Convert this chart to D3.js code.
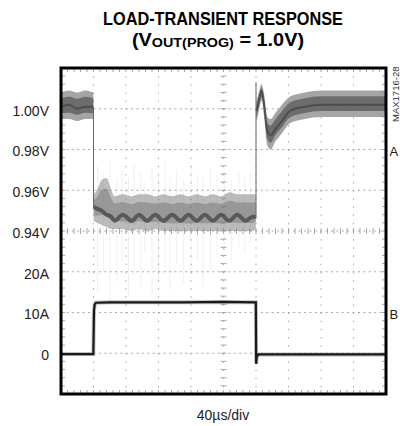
<!DOCTYPE html>
<html>
<head>
<meta charset="utf-8">
<script src="https://cdn.jsdelivr.net/npm/d3@7"></script>
<style>
  body { margin: 0; background: #fff; }
  svg { display: block; }
</style>
</head>
<body>
<div id="chart"></div>
<script>
// Scope capture: channel A = output voltage, channel B = load current
// time in microseconds (40us/div, 10 divisions)
const vTime = [0, 10, 20, 30, 39.8, 40.2, 44, 50, 56, 62, 66, 76, 87, 96, 106, 116, 126, 137, 147, 157, 167, 177, 187, 197, 207, 217, 227, 236, 239.8,
  240.2, 242, 247, 250, 254, 258, 264, 272, 282, 300, 320, 350, 400];
const vHigh = [1.008, 1.009, 1.008, 1.009, 1.008, 0.958, 0.960, 0.965, 0.966, 0.960, 0.957, 0.958, 0.957, 0.958, 0.958, 0.957, 0.958, 0.957, 0.958, 0.957, 0.958, 0.957, 0.958, 0.957, 0.959, 0.958, 0.958, 0.958, 0.958,
  1.004, 1.006, 1.012, 1.007, 0.996, 0.995, 0.998, 1.002, 1.006, 1.008, 1.009, 1.009, 1.009];
const vLow = [0.995, 0.995, 0.994, 0.995, 0.995, 0.945, 0.944, 0.943, 0.942, 0.941, 0.941, 0.941, 0.940, 0.941, 0.940, 0.941, 0.940, 0.940, 0.940, 0.940, 0.940, 0.940, 0.940, 0.940, 0.940, 0.940, 0.940, 0.940, 0.941,
  0.994, 0.996, 1.004, 0.996, 0.982, 0.980, 0.984, 0.988, 0.993, 0.995, 0.996, 0.996, 0.996];
const vCore = [1.001, 1.002, 1.000, 1.001, 1.001, 0.952, 0.951, 0.950, 0.948, 0.947, 0.945, 0.948, 0.945, 0.948, 0.945, 0.948, 0.945, 0.948, 0.945, 0.948, 0.945, 0.948, 0.945, 0.948, 0.945, 0.948, 0.945, 0.947, 0.947,
  0.999, 1.001, 1.009, 1.002, 0.989, 0.987, 0.990, 0.994, 0.999, 1.001, 1.002, 1.002, 1.002];

// the two fast edges of the voltage trace
const edgeTime = [40, 240];
const edgeFromV = [1.001, 0.946];
const edgeToV = [0.952, 1.013];

// faint noise spikes while loaded
const spikeTime = [45, 52, 60, 69, 75, 83, 90, 98, 103, 112, 120, 128, 134, 142, 151, 160, 168, 175, 184, 192, 201, 210, 219, 226, 233];
const spikeTop = [0.972, 0.968, 0.975, 0.965, 0.970, 0.966, 0.973, 0.969, 0.964, 0.971, 0.967, 0.974, 0.966, 0.970, 0.965, 0.972, 0.968, 0.966, 0.971, 0.967, 0.970, 0.965, 0.969, 0.966, 0.968];
const spikeBottom = [0.910, 0.920, 0.906, 0.915, 0.925, 0.908, 0.918, 0.912, 0.930, 0.909, 0.916, 0.920, 0.911, 0.924, 0.914, 0.919, 0.926, 0.913, 0.921, 0.928, 0.930, 0.925, 0.932, 0.929, 0.934];

const iTime = [0, 39.8, 40.6, 41.5, 43, 60, 100, 150, 200, 239.8, 240.2, 241, 243, 260, 300, 350, 400];
const iAmps = [-0.2, -0.2, 10.5, 12.0, 12.4, 12.5, 12.5, 12.5, 12.6, 12.5, -2.6, -0.8, -0.3, -0.3, -0.3, -0.3, -0.3];

// tick labels
const vTickValues = [1.00, 0.98, 0.96, 0.94];
const vTickLabels = ["1.00V", "0.98V", "0.96V", "0.94V"];
const iTickValues = [20, 10, 0];
const iTickLabels = ["20A", "10A", "0"];

const width = 400;
const height = 426;
const margin = { top: 68, right: 14, bottom: 32, left: 61 };
const font = "'Liberation Sans', Arial, sans-serif";

const svg = d3.select("#chart")
  .append("svg")
  .attr("width", width)
  .attr("height", height);

// scales
const x = d3.scaleLinear().domain([0, 400]).range([margin.left, width - margin.right]);
const yV = d3.scaleLinear().domain([0.86, 1.02]).range([height - margin.bottom, margin.top]);
const yI = d3.scaleLinear().domain([-10, 70]).range([height - margin.bottom, margin.top]);

const x0 = x.range()[0], x1 = x.range()[1];
const yTop = yV.range()[1], yBot = yV.range()[0];

// grid
const grid = svg.append("g").attr("stroke", "#a8a8a8").attr("fill", "none");
const timeDivs = d3.range(1, 10).map(k => k * 40);
const voltDivs = d3.range(1, 8).map(k => 0.86 + k * 0.02);

grid.selectAll(".vgrid")
  .data(timeDivs)
  .join("line")
  .attr("x1", d => x(d)).attr("x2", d => x(d))
  .attr("y1", yTop).attr("y2", yBot)
  .attr("stroke-dasharray", "1.5,6.65");

grid.selectAll(".hgrid")
  .data(voltDivs)
  .join("line")
  .attr("x1", x0).attr("x2", x1)
  .attr("y1", d => yV(d)).attr("y2", d => yV(d))
  .attr("stroke-dasharray", "2,3.4");

// minor ticks on the center cross and on the frame edges
const minorV = d3.range(0, 41).map(k => 0.86 + k * 0.004);
const minorT = d3.range(0, 51).map(k => k * 8);
const ticks = svg.append("g").attr("stroke", "#a8a8a8");
ticks.selectAll(".mv")
  .data(minorV)
  .join("line")
  .attr("x1", x(200) - 3).attr("x2", x(200) + 3)
  .attr("y1", d => yV(d)).attr("y2", d => yV(d));
ticks.selectAll(".mt")
  .data(minorT)
  .join("line")
  .attr("x1", d => x(d)).attr("x2", d => x(d))
  .attr("y1", yV(0.94) - 3).attr("y2", yV(0.94) + 3);
ticks.selectAll(".mb")
  .data(minorT)
  .join("line")
  .attr("x1", d => x(d)).attr("x2", d => x(d))
  .attr("y1", yBot - 4).attr("y2", yBot);
ticks.selectAll(".mtop")
  .data(minorT)
  .join("line")
  .attr("x1", d => x(d)).attr("x2", d => x(d))
  .attr("y1", yTop).attr("y2", yTop + 4);
ticks.selectAll(".ml")
  .data(minorV)
  .join("line")
  .attr("x1", x0).attr("x2", x0 + 4)
  .attr("y1", d => yV(d)).attr("y2", d => yV(d));
ticks.selectAll(".mr")
  .data(minorV)
  .join("line")
  .attr("x1", x1 - 4).attr("x2", x1)
  .attr("y1", d => yV(d)).attr("y2", d => yV(d));

// noise spikes
svg.append("g")
  .attr("stroke", "#888")
  .attr("stroke-opacity", 0.13)
  .selectAll("line")
  .data(spikeTime)
  .join("line")
  .attr("x1", d => x(d)).attr("x2", d => x(d))
  .attr("y1", (d, i) => yV(spikeTop[i]))
  .attr("y2", (d, i) => yV(spikeBottom[i]));

// voltage trace, split at the fast edges
const vData = vTime.map((t, i) => ({ t, hi: vHigh[i], lo: vLow[i], core: vCore[i] }));
const segments = d3.groups(vData, d => d3.bisect(edgeTime, d.t)).map(g => g[1]);

const band = d3.area()
  .x(d => x(d.t))
  .y0(d => yV(d.lo))
  .y1(d => yV(d.hi))
  .curve(d3.curveMonotoneX);

const innerBand = d3.area()
  .x(d => x(d.t))
  .y0(d => yV(d.lo + (d.hi - d.lo) * 0.22))
  .y1(d => yV(d.hi - (d.hi - d.lo) * 0.22))
  .curve(d3.curveMonotoneX);

const coreLine = d3.line()
  .x(d => x(d.t))
  .y(d => yV(d.core))
  .curve(d3.curveMonotoneX);

const traceA = svg.append("g");
traceA.selectAll(".band")
  .data(segments)
  .join("path")
  .attr("d", band)
  .attr("fill", "#8e8e8e")
  .attr("fill-opacity", (d, i) => i === 1 ? 0.6 : 0.8);

traceA.selectAll(".inner")
  .data(segments)
  .join("path")
  .attr("d", innerBand)
  .attr("fill", "#5a5a5a")
  .attr("fill-opacity", (d, i) => i === 1 ? 0.35 : 0.75);

traceA.selectAll(".core")
  .data(segments)
  .join("path")
  .attr("d", coreLine)
  .attr("fill", "none")
  .attr("stroke", "#2e2e2e")
  .attr("stroke-width", (d, i) => i === 1 ? 4 : 2)
  .attr("stroke-opacity", (d, i) => i === 1 ? 0.6 : 0.5);

traceA.selectAll(".edge")
  .data(edgeTime)
  .join("line")
  .attr("x1", d => x(d)).attr("x2", d => x(d))
  .attr("y1", (d, i) => yV(edgeFromV[i]))
  .attr("y2", (d, i) => yV(edgeToV[i]))
  .attr("stroke", "#666")
  .attr("stroke-width", 1);

// current trace
const iData = iTime.map((t, i) => ({ t, a: iAmps[i] }));
const iLine = d3.line()
  .x(d => x(d.t))
  .y(d => yI(d.a));

svg.append("path")
  .datum(iData)
  .attr("d", iLine)
  .attr("fill", "none")
  .attr("stroke", "#888")
  .attr("stroke-width", 4)
  .attr("stroke-opacity", 0.5);

svg.append("path")
  .datum(iData)
  .attr("d", iLine)
  .attr("fill", "none")
  .attr("stroke", "#1a1a1a")
  .attr("stroke-width", 2.2);

// frame
svg.append("rect")
  .attr("x", x0).attr("y", yTop)
  .attr("width", x1 - x0).attr("height", yBot - yTop)
  .attr("fill", "none")
  .attr("stroke", "#000")
  .attr("stroke-width", 3);

// y labels
const vAxis = d3.axisLeft(yV)
  .tickValues(vTickValues)
  .tickFormat((d, i) => vTickLabels[i])
  .tickSize(0)
  .tickPadding(12);
const iAxis = d3.axisLeft(yI)
  .tickValues(iTickValues)
  .tickFormat((d, i) => iTickLabels[i])
  .tickSize(0)
  .tickPadding(12);

[vAxis, iAxis].forEach(ax => {
  const g = svg.append("g")
    .attr("transform", `translate(${x0},0)`)
    .call(ax);
  g.select(".domain").remove();
  g.selectAll(".tick text")
    .attr("dy", "0.45em")
    .style("font-family", font)
    .style("font-size", "14px")
    .attr("fill", "#222");
});

// channel labels
svg.append("text")
  .attr("x", 389.5).attr("y", yV(0.98) + 6)
  .text("A")
  .style("font-family", font).style("font-size", "13px").attr("fill", "#222");
svg.append("text")
  .attr("x", 389.5).attr("y", yI(10) + 6)
  .text("B")
  .style("font-family", font).style("font-size", "13px").attr("fill", "#222");

// part number
svg.append("text")
  .attr("transform", "translate(399,122) rotate(-90)")
  .text("MAX1716-28")
  .style("font-family", font).style("font-size", "9.5px").attr("fill", "#333");

// title
svg.append("text")
  .attr("x", 223).attr("y", 25)
  .attr("text-anchor", "middle")
  .attr("textLength", 240)
  .attr("lengthAdjust", "spacingAndGlyphs")
  .style("font-family", font).style("font-size", "18px").style("font-weight", "bold")
  .text("LOAD-TRANSIENT RESPONSE");

const t2 = svg.append("text")
  .attr("x", 218).attr("y", 46)
  .attr("text-anchor", "middle")
  .attr("textLength", 172)
  .attr("lengthAdjust", "spacingAndGlyphs")
  .style("font-family", font).style("font-size", "18px").style("font-weight", "bold");
t2.append("tspan").text("(V");
t2.append("tspan").style("font-size", "13px").attr("dy", 1).text("OUT(PROG)");
t2.append("tspan").attr("dy", -1).text(" = 1.0V)");

// x label
svg.append("text")
  .attr("x", 223).attr("y", 420)
  .attr("text-anchor", "middle")
  .style("font-family", font).style("font-size", "14px")
  .attr("fill", "#222")
  .text("40µs/div");
</script>
</body>
</html>
